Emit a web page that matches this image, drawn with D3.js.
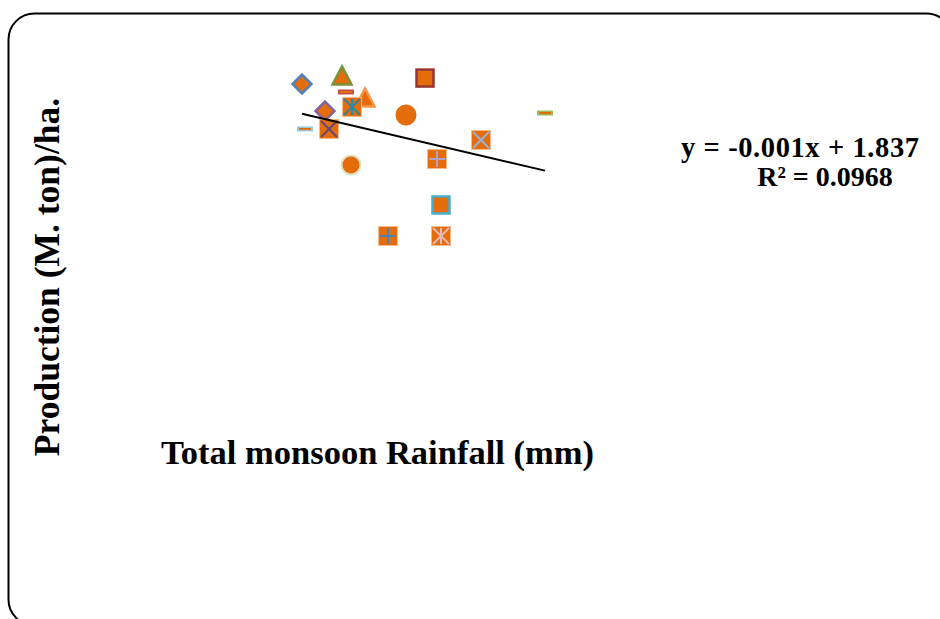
<!DOCTYPE html>
<html>
<head>
<meta charset="utf-8">
<script src="https://cdn.jsdelivr.net/npm/d3@7"></script>
<style>
  body { margin: 0; background: #fff; }
  svg { display: block; }
  text { font-family: "Liberation Serif", "Times New Roman", serif; font-weight: bold; fill: #000; }
</style>
</head>
<body>
<svg id="chart"></svg>
<script>
// one point per series (each series has its own marker)
const rainfall   = [700, 780, 788, 826, 800, 746, 754, 706, 946, 908, 1186, 1058, 970, 798, 978, 872, 978];
const production = [1.393, 1.462, 1.325, 1.274, 1.197, 1.162, 1.009, 1.009, 1.444, 1.128, 1.145, 0.915, 0.752, 0.701, 0.359, 0.094, 0.094];
const markers    = ["diamond", "triangle", "dash", "triangle", "star", "diamond", "x", "dash", "square", "circle", "dash", "x", "plus", "circle", "square", "plus", "star"];
const lineColors = ["#4F81BD", "#77933C", "#C0504D", "#F79646", "#31859C", "#8064A2", "#604A7B", "#93CDDD", "#953735", "#E46C0A", "#9BBB59", "#95B3D7", "#B3A2C7", "#D7E4BD", "#4BACC6", "#4F81BD", "#E6B9B8"];
const fillColor = "#E46C0A";

const eqText = "y = -0.001x + 1.837";
const r2Text = "R² = 0.0968";

const width = 940, height = 619;
const svg = d3.select("#chart").attr("width", width).attr("height", height);

// chart frame
svg.append("rect")
  .attr("x", 8.5).attr("y", 13.5)
  .attr("width", 944).attr("height", 612)
  .attr("rx", 26).attr("ry", 26)
  .attr("fill", "none").attr("stroke", "#000").attr("stroke-width", 2);

const x = d3.scaleLinear().domain([700, 1200]).range([302, 552]);
const y = d3.scaleLinear().domain([0, 2]).range([247, 13]);

const pts = rainfall.map((r, i) => ({ x: r, y: production[i], m: markers[i], c: lineColors[i] }));

// linear trendline (least squares)
const mx = d3.mean(pts, d => d.x), my = d3.mean(pts, d => d.y);
const slope = d3.sum(pts, d => (d.x - mx) * (d.y - my)) / d3.sum(pts, d => (d.x - mx) ** 2);
const icpt = my - slope * mx;
const [x0, x1] = d3.extent(rainfall);

const g = svg.append("g");

const drawMarker = (sel, d) => {
  const s = 9.5;
  if (d.m === "diamond") {
    sel.append("path").attr("d", `M0,${-s}L${s},0L0,${s}L${-s},0Z`)
      .attr("fill", fillColor).attr("stroke", d.c).attr("stroke-width", 2.5);
  } else if (d.m === "triangle") {
    sel.append("path").attr("d", `M0,${-s}L${s},${s - 1}L${-s},${s - 1}Z`)
      .attr("fill", fillColor).attr("stroke", d.c).attr("stroke-width", 2.5);
  } else if (d.m === "square") {
    sel.append("rect").attr("x", -s + 1).attr("y", -s + 1).attr("width", 2 * s - 2).attr("height", 2 * s - 2)
      .attr("fill", fillColor).attr("stroke", d.c).attr("stroke-width", 2.5);
  } else if (d.m === "circle") {
    sel.append("circle").attr("r", s)
      .attr("fill", fillColor).attr("stroke", d.c).attr("stroke-width", 2);
  } else if (d.m === "dash") {
    sel.append("rect").attr("x", -8).attr("y", -2.5).attr("width", 16).attr("height", 5)
      .attr("fill", d.c);
    sel.append("line").attr("x1", -6).attr("x2", 6)
      .attr("stroke", fillColor).attr("stroke-width", 2);
  } else {
    sel.append("rect").attr("x", -s).attr("y", -s).attr("width", 2 * s).attr("height", 2 * s)
      .attr("fill", fillColor).attr("stroke", "#F9B98A").attr("stroke-width", 1);
    const k = s - 1.5;
    let segs = [];
    if (d.m === "x" || d.m === "star") segs.push([-k, -k, k, k], [-k, k, k, -k]);
    if (d.m === "plus" || d.m === "star") segs.push([0, -k, 0, k]);
    if (d.m === "plus") segs.push([-k, 0, k, 0]);
    segs.forEach(q => sel.append("line")
      .attr("x1", q[0]).attr("y1", q[1]).attr("x2", q[2]).attr("y2", q[3])
      .attr("stroke", d.c).attr("stroke-width", 2));
  }
};

g.selectAll("g.pt")
  .data(pts)
  .join("g")
  .attr("class", "pt")
  .attr("transform", d => `translate(${x(d.x)},${y(d.y)})`)
  .each(function (d) { drawMarker(d3.select(this), d); });

g.append("line")
  .attr("x1", x(x0)).attr("y1", y(icpt + slope * x0))
  .attr("x2", x(x1)).attr("y2", y(icpt + slope * x1))
  .attr("stroke", "#000").attr("stroke-width", 2);

// trendline label
svg.append("text").attr("x", 681).attr("y", 157)
  .attr("letter-spacing", 0.6)
  .style("font-size", "28.5px").text(eqText);
svg.append("text").attr("x", 825).attr("y", 186).attr("text-anchor", "middle")
  .style("font-size", "28px").text(r2Text);

// axis titles
svg.append("text").attr("x", 161).attr("y", 464)
  .style("font-size", "34.5px").text("Total monsoon Rainfall (mm)");
svg.append("text")
  .attr("transform", "translate(59,277) rotate(-90)")
  .attr("text-anchor", "middle")
  .style("font-size", "35.5px").text("Production (M. ton)/ha.");
</script>
</body>
</html>
